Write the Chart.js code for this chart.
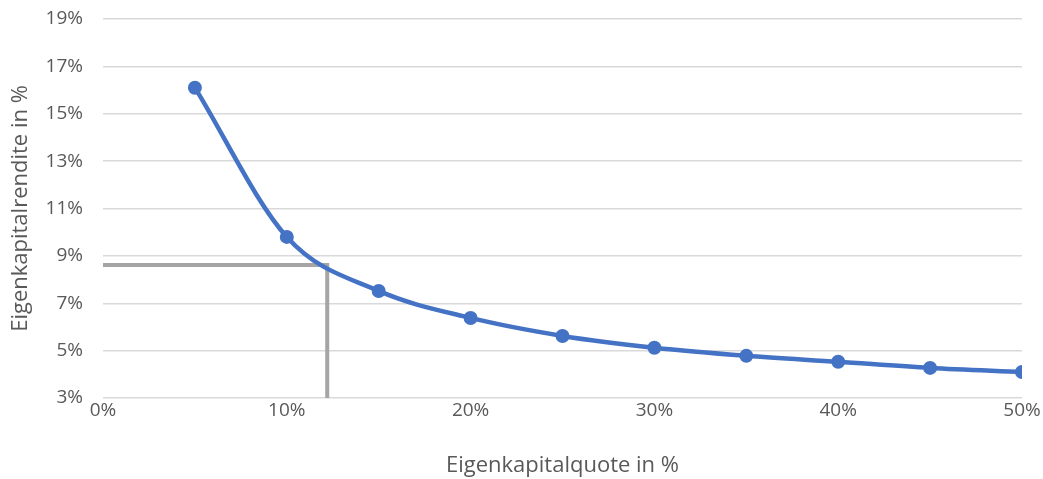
<!DOCTYPE html>
<html>
<head>
<meta charset="utf-8">
<script src="https://cdn.jsdelivr.net/npm/chart.js@4"></script>
<style>
  html, body { margin: 0; padding: 0; background: #fff; }
  #wrap { width: 1043px; height: 479px; }
</style>
</head>
<body>
<div id="wrap"><canvas id="c" width="1043" height="479"></canvas></div>
<script>
// Eigenkapitalquote (x, %) and resulting Eigenkapitalrendite (y, %)
const quoteValues = [5, 10, 15, 20, 25, 30, 35, 40, 45, 50];
const renditeValues = [16.1, 9.8, 7.52, 6.38, 5.62, 5.12, 4.78, 4.53, 4.27, 4.1];

// Reading guide: marked point on the curve
const guideQuote = 12.2;
const guideRendite = 8.62;

const xTicks = [0, 10, 20, 30, 40, 50];
const yTicks = [3, 5, 7, 9, 11, 13, 15, 17, 19];

const tickColor = '#595959';
const fontFamily = "'Open Sans', 'Liberation Sans', sans-serif";

const curvePoints = quoteValues.map((q, i) => ({ x: q, y: renditeValues[i] }));
const guidePoints = [
  { x: 0, y: guideRendite },
  { x: guideQuote, y: guideRendite },
  { x: guideQuote, y: yTicks[0] }
];

new Chart(document.getElementById('c'), {
  type: 'line',
  data: {
    datasets: [
      {
        label: 'Eigenkapitalrendite',
        data: curvePoints,
        borderColor: '#4472C4',
        backgroundColor: '#4472C4',
        borderWidth: 4.5,
        pointRadius: 7,
        pointHoverRadius: 7,
        pointBorderWidth: 0,
        cubicInterpolationMode: 'monotone',
        fill: false,
        order: 0
      },
      {
        label: 'Ablesung',
        data: guidePoints,
        borderColor: '#A5A5A5',
        borderWidth: 4,
        pointRadius: 0,
        tension: 0,
        borderCapStyle: 'butt',
        borderJoinStyle: 'miter',
        fill: false,
        order: 1
      }
    ]
  },
  options: {
    responsive: false,
    animation: false,
    layout: { padding: { top: 19, right: 21, left: 0, bottom: 0 } },
    plugins: {
      legend: { display: false },
      tooltip: { enabled: false }
    },
    scales: {
      x: {
        type: 'linear',
        min: xTicks[0],
        max: xTicks[xTicks.length - 1],
        afterBuildTicks: (s) => { s.ticks = xTicks.map(v => ({ value: v })); },
        afterFit: (s) => { s.height = 81; },
        grid: { display: false, drawTicks: false },
        border: { display: false },
        ticks: {
          color: tickColor,
          font: { family: fontFamily, size: 19 },
          padding: 1,
          maxRotation: 0,
          callback: (v) => v + '%'
        },
        title: {
          display: true,
          text: 'Eigenkapitalquote in %',
          color: tickColor,
          font: { family: fontFamily, size: 22 },
          padding: { top: 11, bottom: 0 }
        }
      },
      y: {
        type: 'linear',
        min: yTicks[0],
        max: yTicks[yTicks.length - 1],
        afterBuildTicks: (s) => { s.ticks = yTicks.map(v => ({ value: v })); },
        afterFit: (s) => { s.width = 103; },
        grid: {
          color: '#D9D9D9',
          lineWidth: 1.5,
          drawTicks: true,
          tickLength: 20,
          tickColor: 'rgba(0,0,0,0)'
        },
        border: { display: false },
        ticks: {
          color: tickColor,
          font: { family: fontFamily, size: 19 },
          padding: 0,
          callback: (v) => v + '%'
        },
        title: {
          display: true,
          text: 'Eigenkapitalrendite in %',
          color: tickColor,
          font: { family: fontFamily, size: 22 },
          padding: { top: 8, bottom: 4 }
        }
      }
    }
  }
});
</script>
</body>
</html>
